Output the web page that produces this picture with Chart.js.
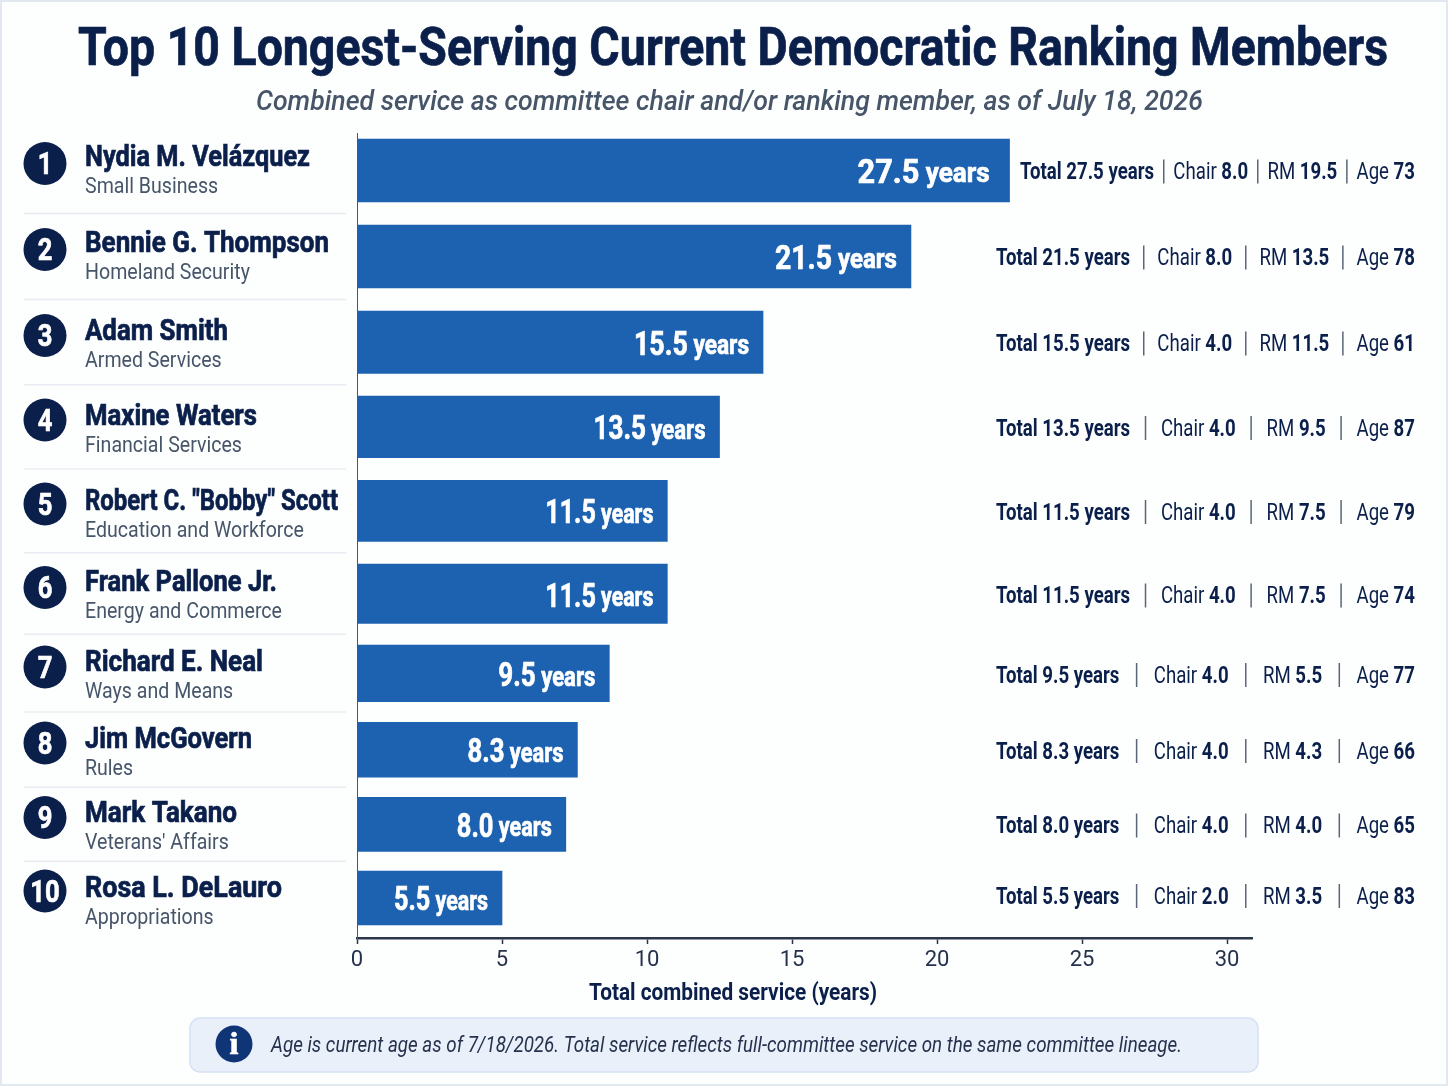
<!DOCTYPE html>
<html>
<head>
<meta charset="utf-8">
<title>Top 10 Longest-Serving Current Democratic Ranking Members</title>
<script src="https://cdn.jsdelivr.net/npm/chart.js@4/dist/chart.umd.js"></script>
<style>
    html, body { margin: 0; padding: 0; background: #fdfefe; }
    canvas { display: block; }
</style>
</head>
<body>
<canvas id="rankingChart" width="1448" height="1086"></canvas>
<script>
// Datos
const names = ['Nydia M. Velázquez', 'Bennie G. Thompson', 'Adam Smith', 'Maxine Waters', 'Robert C. "Bobby" Scott',
    'Frank Pallone Jr.', 'Richard E. Neal', 'Jim McGovern', 'Mark Takano', 'Rosa L. DeLauro'];
const committees = ['Small Business', 'Homeland Security', 'Armed Services', 'Financial Services', 'Education and Workforce',
    'Energy and Commerce', 'Ways and Means', 'Rules', "Veterans' Affairs", 'Appropriations'];
// Bar lengths as they read against the printed axis (the printed labels below say otherwise in the source)
const barLengths = [22.5, 19.1, 14.0, 12.5, 10.7, 10.7, 8.7, 7.6, 7.2, 5.0];
const totalYears = [27.5, 21.5, 15.5, 13.5, 11.5, 11.5, 9.5, 8.3, 8.0, 5.5];
const chairYears = [8.0, 8.0, 4.0, 4.0, 4.0, 4.0, 4.0, 4.0, 4.0, 2.0];
const rmYears = [19.5, 13.5, 11.5, 9.5, 7.5, 7.5, 5.5, 4.3, 4.0, 3.5];
const ages = [73, 78, 61, 87, 79, 74, 77, 66, 65, 83];
const xTicks = [0, 5, 10, 15, 20, 25, 30];

// Rows get tighter going down, so the category axis uses these relative gaps
const rowGaps = [86, 86, 84.5, 84, 83.5, 79.5, 76, 74.5, 73.5];
const rowEdgeTop = 37.5;
const rowEdgeBottom = 40;
// Anchos y ajustes de texto por fila
const barLabelWidths = [132, 122, 115, 112, 108, 108, 97, 96, 95, 94];
const nameWidths = [225, 244, 143, 172, 253, 192, 178, 167, 152, 197];
const nameNudge = [-1, -1, 1, 2, 3, 0, 1, 2, 1, 3];

const FONT = 'Roboto, sans-serif';
const NAVY = '#0b1f4b';
const GREY = '#475569';
const BLUE = '#1c62b1';

class RowScale extends Chart.CategoryScale {
    static id = 'rows';
    getPixelForValue(value) {
        const i = typeof value === 'number' ? value : this.parse(value);
        const span = rowEdgeTop + rowEdgeBottom + rowGaps.reduce((a, b) => a + b, 0);
        let offset = rowEdgeTop;
        for (let k = 0; k < i; k++) offset += rowGaps[k];
        return this.getPixelForDecimal(offset / span);
    }
}
Chart.register(RowScale);

// The source uses a condensed face, Roboto is squeezed sideways to get close
function text(ctx, str, x, y, font, color, align, squeeze) {
    const size = parseFloat(font.match(/([\d.]+)px/)[1]);
    ctx.save();
    ctx.font = font;
    ctx.fillStyle = color;
    ctx.textAlign = align || 'left';
    ctx.textBaseline = 'middle';
    ctx.translate(x, y + size * 0.09);
    ctx.scale(squeeze || 1, 1);
    // large bold text is a bit heavier in the source
    if (font.startsWith('bold') && size >= 28) {
        ctx.strokeStyle = color;
        ctx.lineWidth = 0.7;
        ctx.strokeText(str, 0, 0);
    }
    ctx.fillText(str, 0, 0);
    ctx.restore();
}

function width(ctx, str, font, squeeze) {
    ctx.font = font;
    return ctx.measureText(str).width * (squeeze || 1);
}

function fitted(ctx, str, cx, y, font, color, target) {
    text(ctx, str, cx, y, font, color, 'center', target / width(ctx, str, font));
}

// Fila de la derecha: Total | Chair | RM | Age
function drawStats(ctx, i, y) {
    const bold = 'bold 23px ' + FONT;
    const reg = '23px ' + FONT;
    const sq = 0.81;
    const parts = [
        [['Total ' + totalYears[i].toFixed(1) + ' years', bold]],
        [['Chair ', reg], [chairYears[i].toFixed(1), bold]],
        [['RM ', reg], [rmYears[i].toFixed(1), bold]],
        [['Age ', reg], [String(ages[i]), bold]]
    ];
    const left = i === 0 ? 1020 : 996;
    const right = 1415;
    const widths = parts.map(p => p.reduce((w, run) => w + width(ctx, run[0], run[1], sq), 0));
    const gap = (right - left - widths.reduce((a, b) => a + b, 0)) / 6;
    let x = left;
    parts.forEach((p, n) => {
        p.forEach(run => {
            text(ctx, run[0], x, y, run[1], NAVY, 'left', sq);
            x += width(ctx, run[0], run[1], sq);
        });
        if (n < 3) {
            x += gap;
            ctx.strokeStyle = '#5a6577';
            ctx.lineWidth = 1.5;
            ctx.beginPath();
            ctx.moveTo(x, y - 12);
            ctx.lineTo(x, y + 12);
            ctx.stroke();
            x += gap;
        }
    });
}

const panels = {
    id: 'panels',
    beforeDraw(chart) {
        const ctx = chart.ctx;
        ctx.save();
        ctx.fillStyle = '#fdfefe';
        ctx.fillRect(0, 0, 1448, 1086);
        ctx.strokeStyle = '#e2e8f0';
        ctx.lineWidth = 2;
        ctx.strokeRect(1, 1, 1446, 1084);
        ctx.restore();
    },
    afterDraw(chart) {
        const ctx = chart.ctx;
        const yScale = chart.scales.y;
        const bars = chart.getDatasetMeta(0).data;
        ctx.save();

        fitted(ctx, 'Top 10 Longest-Serving Current Democratic Ranking Members', 733, 47, 'bold 53px ' + FONT, NAVY, 1310);
        fitted(ctx, 'Combined service as committee chair and/or ranking member, as of July 18, 2026', 729.5, 100, 'italic 500 28px ' + FONT, GREY, 947);

        names.forEach((name, i) => {
            const y = yScale.getPixelForValue(i);
            if (i < names.length - 1) {
                const next = yScale.getPixelForValue(i + 1);
                ctx.strokeStyle = '#e8ecf2';
                ctx.lineWidth = 1.5;
                ctx.beginPath();
                ctx.moveTo(24, (y + next) / 2);
                ctx.lineTo(346, (y + next) / 2);
                ctx.stroke();
            }
            ctx.fillStyle = NAVY;
            ctx.beginPath();
            ctx.arc(45, y - 7, 21.5, 0, Math.PI * 2);
            ctx.fill();
            text(ctx, String(i + 1), 45, y - 7, 'bold 32px ' + FONT, '#ffffff', 'center', 0.8);
            const nameFont = 'bold 30px ' + FONT;
            text(ctx, name, 85, y - 14 + nameNudge[i], nameFont, NAVY, 'left', nameWidths[i] / width(ctx, name, nameFont));
            text(ctx, committees[i], 85, y + 16 + nameNudge[i], '22px ' + FONT, GREY, 'left', 0.89);

            // etiqueta dentro de la barra
            const end = bars[i].x - (i === 0 ? 20 : 14);
            const numFont = 'bold 33px ' + FONT;
            const unitFont = 'bold 28px ' + FONT;
            const num = totalYears[i].toFixed(1);
            const sq = barLabelWidths[i] / (width(ctx, num, numFont) + width(ctx, ' years', unitFont));
            const unitW = width(ctx, ' years', unitFont, sq);
            text(ctx, ' years', end - unitW, y + 2, unitFont, '#ffffff', 'left', sq);
            text(ctx, num, end - unitW, y + 1, numFont, '#ffffff', 'right', sq);

            drawStats(ctx, i, y + (i === 9 ? -2 : 1));
        });

        fitted(ctx, 'Total combined service (years)', 733, 992, 'bold 23px ' + FONT, NAVY, 288);

        // Nota al pie
        ctx.fillStyle = '#e9f0fa';
        ctx.strokeStyle = '#d5e2f3';
        ctx.lineWidth = 1.5;
        ctx.beginPath();
        ctx.roundRect(190, 1018, 1068, 54, 10);
        ctx.fill();
        ctx.stroke();
        ctx.fillStyle = '#0f3577';
        ctx.beginPath();
        ctx.arc(234, 1044, 18.5, 0, Math.PI * 2);
        ctx.fill();
        text(ctx, 'i', 234, 1043, 'bold 32px "Liberation Serif", serif', '#ffffff', 'center');
        fitted(ctx, 'Age is current age as of 7/18/2026. Total service reflects full-committee service on the same committee lineage.',
            726.5, 1045, 'italic 22px ' + FONT, '#26324d', 911);
        ctx.restore();
    }
};

const ctx = document.getElementById('rankingChart').getContext('2d');
const rankingChart = new Chart(ctx, {
    type: 'bar',
    data: {
        labels: names,
        datasets: [{
            label: 'Total combined service (years)',
            data: barLengths,
            backgroundColor: BLUE,
            barThickness: 'flex',
            categoryPercentage: 0.73,
            barPercentage: 1
        }]
    },
    options: {
        indexAxis: 'y',
        responsive: false,
        animation: false,
        layout: {
            padding: { top: 133, left: 357, right: 196, bottom: 108 }
        },
        scales: {
            x: {
                min: 0,
                max: 30.86,
                afterBuildTicks(scale) {
                    scale.ticks = xTicks.map(v => ({ value: v }));
                },
                ticks: {
                    color: '#26324d',
                    padding: 3,
                    maxRotation: 0,
                    font: { family: FONT, size: 22 }
                },
                grid: {
                    drawOnChartArea: false,
                    tickLength: 6,
                    tickColor: '#2b3648',
                    tickWidth: 1.5
                },
                border: { color: '#2b3648', width: 2.5 },
                afterFit(scale) {
                    scale.paddingLeft = 0;
                    scale.paddingRight = 0;
                    scale.height = 40;
                }
            },
            y: {
                type: 'rows',
                ticks: { display: false },
                grid: { display: false },
                border: { color: '#4a5568', width: 1 },
                afterFit(scale) { scale.width = 0; }
            }
        },
        plugins: {
            legend: { display: false },
            tooltip: { enabled: false }
        }
    },
    plugins: [panels]
});
</script>
</body>
</html>
